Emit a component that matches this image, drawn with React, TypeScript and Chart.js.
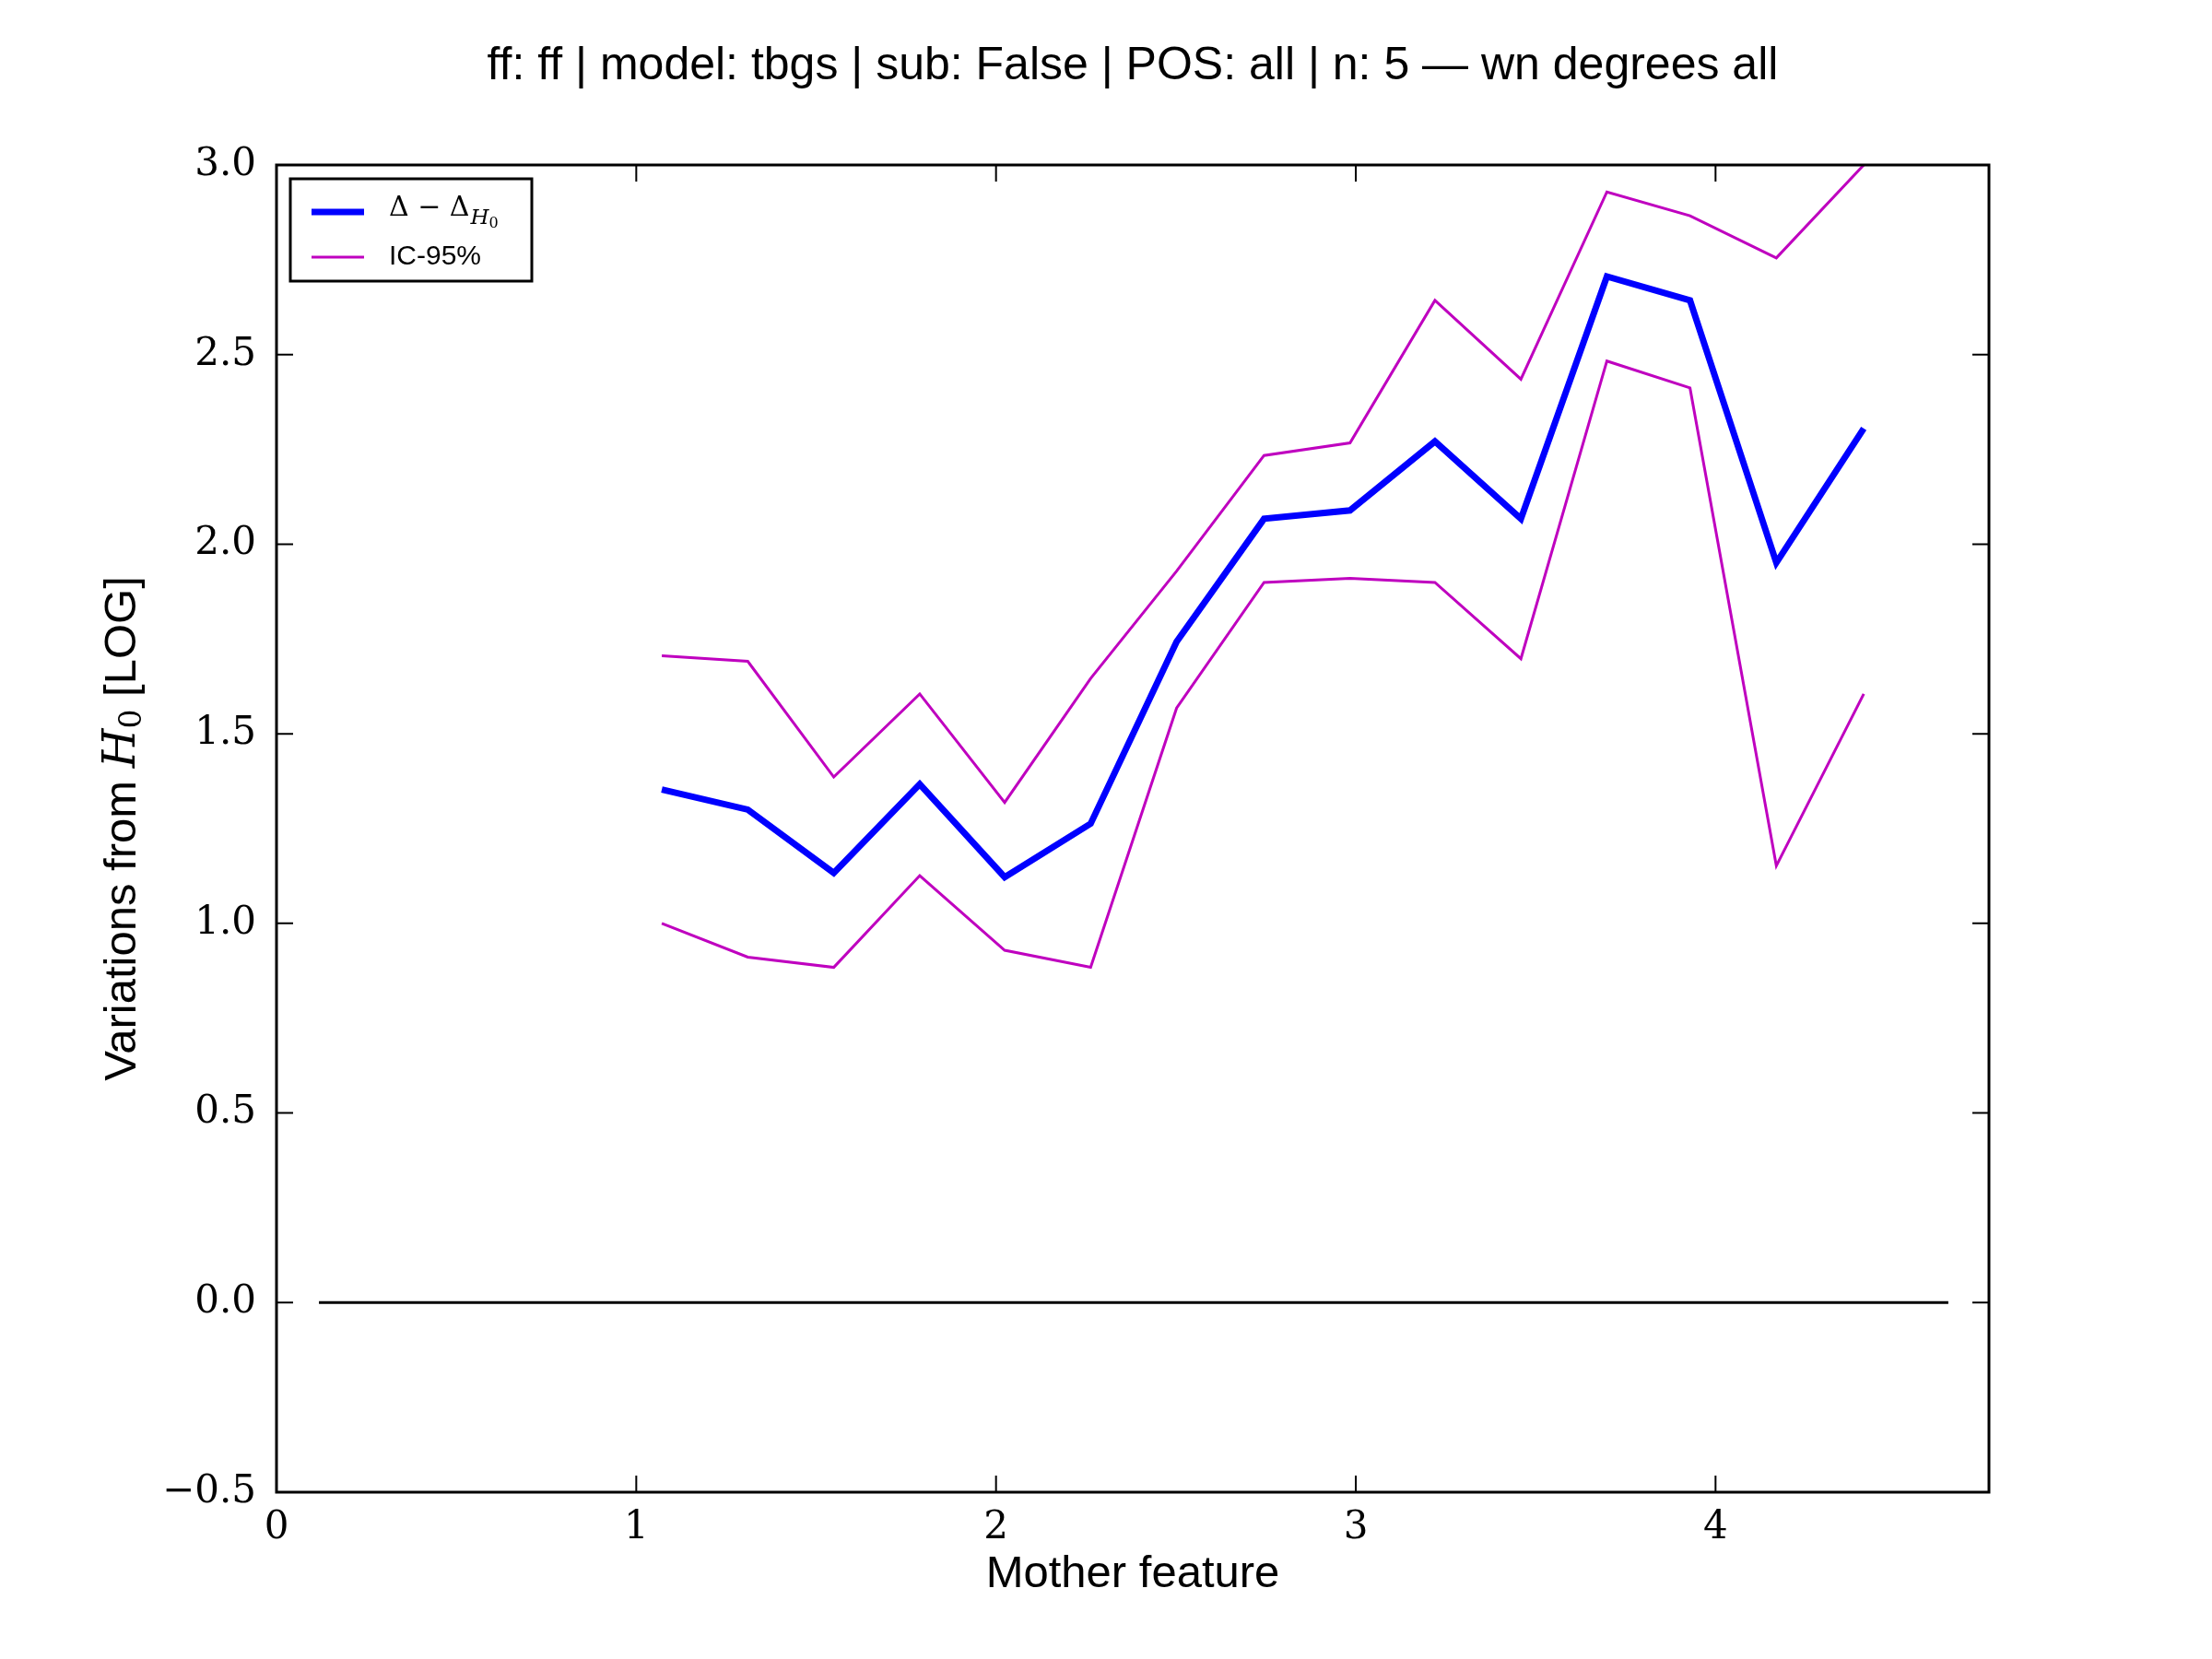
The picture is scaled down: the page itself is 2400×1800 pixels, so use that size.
import React, { useEffect, useRef } from "react";
import { Chart, registerables } from "chart.js";
Chart.register(...registerables);

const xs = [1.071, 1.31, 1.549, 1.788, 2.024, 2.263, 2.502, 2.745, 2.984, 3.22, 3.459, 3.698, 3.929, 4.169, 4.412];
const meanVals = [1.353, 1.30, 1.133, 1.367, 1.122, 1.263, 1.743, 2.067, 2.089, 2.271, 2.067, 2.706, 2.643, 1.951, 2.305];
const upperVals = [1.706, 1.691, 1.386, 1.605, 1.319, 1.646, 1.929, 2.234, 2.267, 2.643, 2.435, 2.929, 2.866, 2.755, 3.0];
const lowerVals = [1.0, 0.911, 0.884, 1.126, 0.929, 0.884, 1.568, 1.899, 1.910, 1.899, 1.698, 2.483, 2.412, 1.152, 1.605];
const zeroX = [0.118, 4.647];
const titleText = "ff: ff | model: tbgs | sub: False | POS: all | n: 5 \u2014 wn degrees all";

const SANS = "'Liberation Sans', Arial, sans-serif";
const SERIF = "'DejaVu Serif', 'Liberation Serif', serif";

const pts = (a: number[]) => a.map((y, i) => ({ x: xs[i], y }));

const deco = {
  id: "deco",
  afterDraw(chart: any) {
    const { ctx, chartArea: a, scales } = chart;
    ctx.save();
    ctx.strokeStyle = "#000";
    ctx.lineWidth = 3;
    ctx.strokeRect(a.left, a.top, a.right - a.left, a.bottom - a.top);
    const L = 18;
    ctx.lineWidth = 2;
    ctx.beginPath();
    scales.x.ticks.forEach((t: any) => {
      const px = scales.x.getPixelForValue(t.value);
      ctx.moveTo(px, a.bottom); ctx.lineTo(px, a.bottom - L);
      ctx.moveTo(px, a.top); ctx.lineTo(px, a.top + L);
    });
    scales.y.ticks.forEach((t: any) => {
      const py = scales.y.getPixelForValue(t.value);
      ctx.moveTo(a.left, py); ctx.lineTo(a.left + L, py);
      ctx.moveTo(a.right, py); ctx.lineTo(a.right - L, py);
    });
    ctx.stroke();
    ctx.fillStyle = "#000";
    ctx.textAlign = "center";
    ctx.textBaseline = "middle";
    ctx.font = `50px ${SANS}`;
    ctx.fillText(titleText, (a.left + a.right) / 2, 72);
    ctx.font = `49px ${SANS}`;
    ctx.fillText("Mother feature", (a.left + a.right) / 2, 1708);
    ctx.save();
    ctx.translate(133, (a.top + a.bottom) / 2);
    ctx.rotate(-Math.PI / 2);
    const p1 = "Variations from ";
    const p3 = " [LOG]";
    ctx.font = `49px ${SANS}`;
    const w1 = ctx.measureText(p1).width;
    ctx.font = `italic 49px ${SERIF}`;
    const wH = ctx.measureText("H").width;
    ctx.font = `33px ${SERIF}`;
    const w0 = ctx.measureText("0").width;
    ctx.font = `49px ${SANS}`;
    const w3 = ctx.measureText(p3).width;
    let x = -(w1 + wH + w0 + w3) / 2;
    ctx.textAlign = "left";
    ctx.fillText(p1, x, 0); x += w1;
    ctx.font = `italic 49px ${SERIF}`;
    ctx.fillText("H", x, 0); x += wH;
    ctx.font = `33px ${SERIF}`;
    ctx.fillText("0", x, 11); x += w0;
    ctx.font = `49px ${SANS}`;
    ctx.fillText(p3, x, 0);
    ctx.restore();
    // legend
    ctx.fillStyle = "#fff";
    ctx.fillRect(315, 194, 262, 111);
    ctx.lineWidth = 3;
    ctx.strokeStyle = "#000";
    ctx.strokeRect(315, 194, 262, 111);
    ctx.strokeStyle = "#0000ff";
    ctx.lineWidth = 7;
    ctx.beginPath(); ctx.moveTo(338, 230); ctx.lineTo(395, 230); ctx.stroke();
    ctx.strokeStyle = "#bf00bf";
    ctx.lineWidth = 3;
    ctx.beginPath(); ctx.moveTo(338, 279); ctx.lineTo(395, 279); ctx.stroke();
    ctx.fillStyle = "#000";
    ctx.textAlign = "left";
    ctx.font = `30px ${SERIF}`;
    ctx.fillText("\u0394 \u2212 \u0394", 422, 226);
    const wd = ctx.measureText("\u0394 \u2212 \u0394").width;
    ctx.font = `italic 23px ${SERIF}`;
    ctx.fillText("H", 422 + wd + 1, 237);
    const wh = ctx.measureText("H").width;
    ctx.font = `16px ${SERIF}`;
    ctx.fillText("0", 422 + wd + 1 + wh, 243);
    ctx.font = `30px ${SANS}`;
    ctx.fillText("IC-95%", 422, 279);
    ctx.restore();
  },
};

export default function App() {
  const ref = useRef<HTMLCanvasElement>(null);
  useEffect(() => {
    document.body.style.margin = "0";
    const chart = new Chart(ref.current!, {
      type: "line",
      data: {
        datasets: [
          { data: pts(meanVals), borderColor: "#0000ff", borderWidth: 7, pointRadius: 0, tension: 0 },
          { data: pts(upperVals), borderColor: "#bf00bf", borderWidth: 3, pointRadius: 0, tension: 0 },
          { data: pts(lowerVals), borderColor: "#bf00bf", borderWidth: 3, pointRadius: 0, tension: 0 },
          { data: zeroX.map((x) => ({ x, y: 0 })), borderColor: "#000", borderWidth: 3, pointRadius: 0 },
        ],
      },
      options: {
        responsive: false,
        animation: false,
        layout: { padding: { top: 179, right: 242, left: 0, bottom: 0 } },
        plugins: { legend: { display: false }, title: { display: false }, tooltip: { enabled: false } },
        scales: {
          x: {
            type: "linear", min: 0, max: 4.76,
            grid: { display: false }, border: { display: false },
            afterBuildTicks: (s: any) => { s.ticks = [0, 1, 2, 3, 4].map((v) => ({ value: v })); },
            afterFit: (s: any) => { s.height = 181; },
            ticks: { color: "#000", font: { family: SERIF, size: 42 }, padding: 6, maxRotation: 0, callback: (v: any) => String(v) },
          },
          y: {
            min: -0.5, max: 3,
            grid: { display: false }, border: { display: false },
            afterBuildTicks: (s: any) => { s.ticks = [-0.5, 0, 0.5, 1, 1.5, 2, 2.5, 3].map((v) => ({ value: v })); },
            afterFit: (s: any) => { s.width = 300; },
            ticks: { color: "#000", font: { family: SERIF, size: 42 }, padding: 14, callback: (v: any) => (Number(v) < 0 ? "\u2212" : "") + Math.abs(Number(v)).toFixed(1) },
          },
        },
      },
      plugins: [deco],
    });
    return () => chart.destroy();
  }, []);
  return <canvas ref={ref} width={2400} height={1800} style={{ display: "block", background: "#fff" }} />;
}
